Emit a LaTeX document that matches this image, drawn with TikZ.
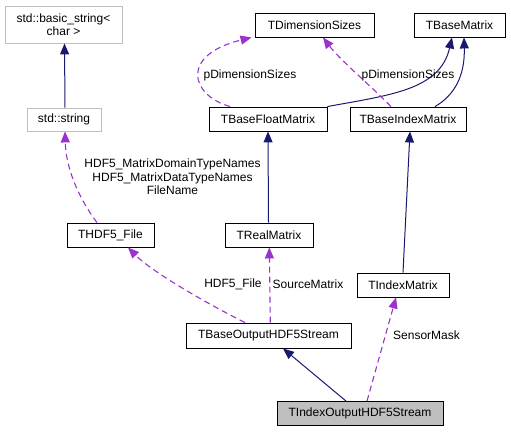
\documentclass[tikz,border=0pt]{standalone}
\usepackage{fontspec}
\setmainfont{Liberation Sans}
\usetikzlibrary{arrows.meta}
\definecolor{inhcol}{HTML}{191970}
\definecolor{usecol}{HTML}{9A32CD}
\definecolor{graybd}{HTML}{BFBFBF}
\definecolor{grayfill}{HTML}{BFBFBF}
\begin{document}
\begin{tikzpicture}[x=1pt,y=-1pt,
  every node/.style={font=\fontsize{12}{13.5}\selectfont, inner sep=0pt, align=center},
  cls/.style={draw=black, line width=0.9pt, minimum height=24pt},
  ext/.style={draw=graybd, line width=0.9pt},
  hl/.style={cls, fill=grayfill},
  inh/.style={draw=inhcol, line width=1pt, -{Triangle[length=11pt,width=9pt]}},
  use/.style={draw=usecol, line width=1.1pt, dash pattern=on 6pt off 4pt, -{Triangle[length=11pt,width=9pt]}},
  lbl/.style={}]
\useasboundingbox (0,0) rectangle (511,432);
% nodes
\node[ext, minimum width=117pt, minimum height=37pt] (bstr) at (63.5,24.5) {std::basic\_string<\\char >};
\node[ext, minimum width=74pt, minimum height=23pt] (str) at (64,119.5) {std::string};
\node[cls, minimum width=119pt] (tdim) at (314.5,25) {TDimensionSizes};
\node[cls, minimum width=91pt] (tbm) at (459.5,25) {TBaseMatrix};
\node[cls, minimum width=118pt] (tbfm) at (268,119) {TBaseFloatMatrix};
\node[cls, minimum width=116pt] (tbim) at (408,119) {TBaseIndexMatrix};
\node[cls, minimum width=87pt] (thdf) at (110.5,235) {THDF5\_File};
\node[cls, minimum width=88pt] (treal) at (269,235) {TRealMatrix};
\node[cls, minimum width=92pt] (tim) at (403,285) {TIndexMatrix};
\node[cls, minimum width=165pt, minimum height=25pt] (tbo) at (268.5,335.5) {TBaseOutputHDF5Stream};
\node[hl, minimum width=166pt] (tio) at (360,413.5) {TIndexOutputHDF5Stream};
% inheritance edges
\draw[inh] ([xshift=1pt]str.north) -- ([xshift=1pt]bstr.south);
\draw[inh] (tbfm.north east) .. controls (390,95) and (440,90) .. ([xshift=-7.5pt]tbm.south);
\draw[inh] ([xshift=27pt]tbim.north) .. controls (455,95) and (465,75) .. ([xshift=4.5pt]tbm.south);
\draw[inh] ([xshift=-0.5pt]treal.north) -- (tbfm.south);
\draw[inh] (tim.north) -- ([xshift=2pt]tbim.south);
\draw[inh] ([xshift=-14pt]tio.north) -- ([xshift=14.5pt]tbo.south);
% usage edges
\draw[use] ([xshift=-13.5pt]thdf.north) .. controls (80,200) and (66,170) .. ([xshift=1pt]str.south);
\draw[use] ([xshift=-38pt]tbfm.north) .. controls (190,95) and (180,55) .. ([xshift=-3pt]tdim.south west);
\draw[use] ([xshift=-17pt]tbim.north) .. controls (370,85) and (340,60) .. ([xshift=8.5pt]tdim.south);
\draw[use] ([xshift=-23.5pt]tbo.north) .. controls (200,300) and (150,270) .. ([xshift=17.5pt]thdf.south);
\draw[use] ([xshift=1.8pt]tbo.north) -- ([xshift=0.3pt]treal.south);
\draw[use] ([xshift=7pt]tio.north) -- ([xshift=-7pt]tim.south);
% labels
\node[lbl] (l1) at (172.5,177) {HDF5\_MatrixDomainTypeNames\\HDF5\_MatrixDataTypeNames\\FileName};
\node[lbl] (l2) at (250,75) {pDimensionSizes};
\node[lbl] (l3) at (408,75) {pDimensionSizes};
\node[lbl] (l4) at (233,284) {HDF5\_File};
\node[lbl] (l5) at (308,284) {SourceMatrix};
\node[lbl] (l6) at (426.5,335) {SensorMask};
\end{tikzpicture}
\end{document}
